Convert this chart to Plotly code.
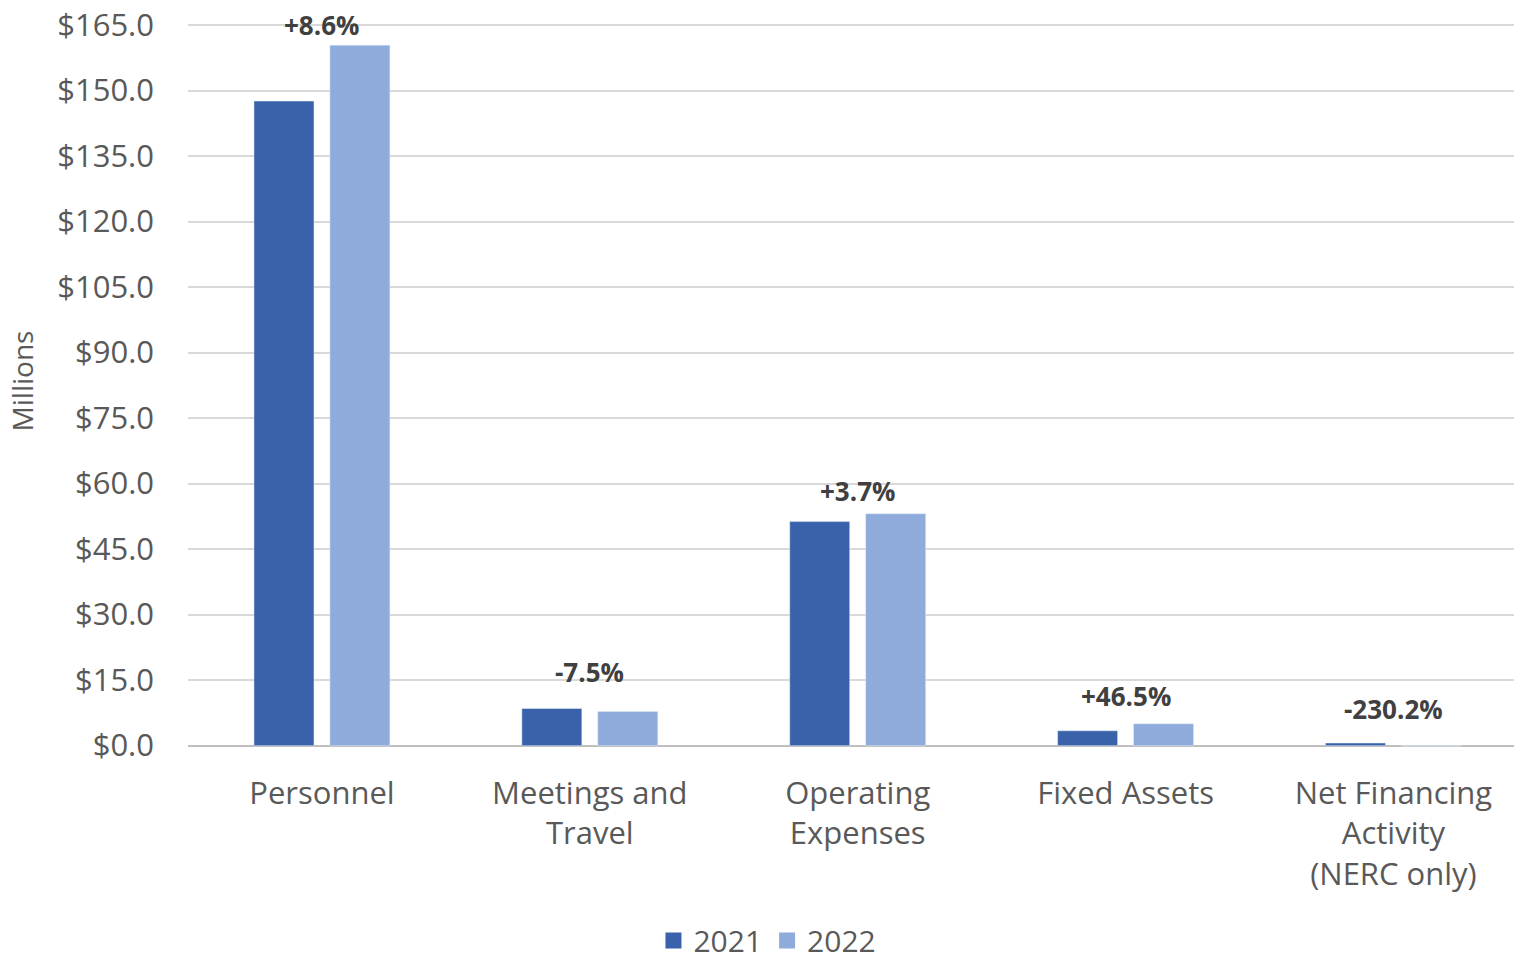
import plotly.graph_objects as go

categories = ["Personnel", "Meetings and<br>Travel", "Operating<br>Expenses", "Fixed Assets", "Net Financing<br>Activity<br>(NERC only)"]
values_2021 = [147.6, 8.5, 51.3, 3.4, 0.6]
values_2022 = [160.4, 7.8, 53.1, 5.0, -0.1]
change_labels = ["+8.6%", "-7.5%", "+3.7%", "+46.5%", "-230.2%"]
label_y = [165.0, 16.9, 58.4, 11.4, 8.5]
y_ticks = [0, 15, 30, 45, 60, 75, 90, 105, 120, 135, 150, 165]
y_tick_text = ["$%.1f" % v for v in y_ticks]

FONT = "Open Sans"
GRAY = "#595959"
C21 = "#3A62AB"
C22 = "#8EABDC"

fig = go.Figure()
fig.add_trace(go.Bar(name="2021", x=categories, y=values_2021, marker_color=C21, showlegend=False))
fig.add_trace(go.Bar(name="2022", x=categories, y=values_2022, marker_color=C22, showlegend=False))
# legend entries with larger square swatches
fig.add_trace(go.Scatter(name="2021", x=[None], y=[None], mode="markers",
                         marker=dict(symbol="square", size=16, color=C21)))
fig.add_trace(go.Scatter(name="2022", x=[None], y=[None], mode="markers",
                         marker=dict(symbol="square", size=16, color=C22)))

for c, t, yv in zip(categories, change_labels, label_y):
    fig.add_annotation(x=c, y=yv, text="<b>" + t + "</b>", showarrow=False,
                       xanchor="center", yanchor="middle",
                       font=dict(family=FONT, size=26, color="#404040"))

fig.update_layout(
    width=1514, height=966,
    margin=dict(l=188, r=0, t=12, b=216, autoexpand=False),
    plot_bgcolor="white", paper_bgcolor="white",
    barmode="group", bargap=0.433, bargroupgap=0.21,
    font=dict(family=FONT, color=GRAY, size=31),
    showlegend=True,
    legend=dict(orientation="h", x=0.437, xanchor="center", y=-0.258, yanchor="middle",
                font=dict(size=30, color=GRAY), itemsizing="trace", traceorder="normal",
                itemwidth=30, tracegroupgap=0, bgcolor="rgba(0,0,0,0)"),
    xaxis=dict(range=[-0.5, 4.45], showgrid=False, showline=False, ticks="",
               automargin=False, ticklabelstandoff=22,
               tickfont=dict(size=31, color=GRAY)),
    yaxis=dict(range=[-1, 168], tickvals=y_ticks, ticktext=y_tick_text,
               showgrid=True, gridcolor="#D9D9D9", gridwidth=1.5,
               zeroline=True, zerolinecolor="#BFBFBF", zerolinewidth=2,
               showline=False, ticks="", ticklabelstandoff=33, automargin=False,
               tickfont=dict(size=31, color=GRAY),
               title=dict(text="Millions", font=dict(size=28, color=GRAY), standoff=15)),
)

fig.write_html("out.html", config={"displayModeBar": False},
               post_script="document.body.style.margin='0';document.body.style.overflow='hidden';")
